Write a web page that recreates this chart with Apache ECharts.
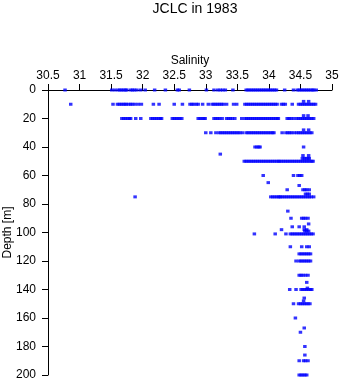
<!DOCTYPE html>
<html>
<head>
<meta charset="utf-8">
<script src="https://cdn.jsdelivr.net/npm/echarts@6/dist/echarts.min.js"></script>
<style>
html,body{margin:0;padding:0;background:#fff;}
#chart{width:341px;height:384px;}
</style>
</head>
<body>
<div id="chart"></div>
<script>
// Salinity readings at each sampled depth (m)
const depthLevels = [0, 8, 10, 18, 20, 28, 30, 40, 45, 46, 48, 50, 60, 65, 67, 70, 73, 75, 85, 90, 94, 96, 98, 99, 101, 110, 115, 120, 130, 135, 139, 140, 146, 148, 150, 160, 167, 170, 180, 186, 190, 200];

const sal_0 = [30.77, 31.51, 31.56, 31.61, 31.64, 31.67, 31.70, 31.73, 31.75, 31.81, 31.84, 31.87, 31.91, 31.97, 32.04, 32.19, 32.36, 32.55, 32.58, 32.74, 33.01, 33.13, 33.19, 33.23, 33.27, 33.31, 33.43, 33.64, 33.67, 33.70, 33.73, 33.76, 33.79, 33.82, 33.85, 33.88, 33.91, 33.94, 33.97, 34.00, 34.03, 34.06, 34.09, 34.12, 34.25, 34.39, 34.45, 34.48, 34.51, 34.54, 34.57, 34.60, 34.63, 34.66, 34.69, 34.71, 34.75];
const sal_8 = [34.55, 34.63];
const sal_10 = [30.86, 31.53, 31.60, 31.63, 31.66, 31.69, 31.72, 31.74, 31.78, 31.81, 31.84, 31.88, 31.93, 31.98, 32.17, 32.26, 32.50, 32.63, 32.75, 32.78, 32.81, 32.85, 32.88, 32.95, 33.04, 33.10, 33.13, 33.16, 33.19, 33.22, 33.25, 33.28, 33.33, 33.44, 33.49, 33.62, 33.65, 33.68, 33.71, 33.74, 33.77, 33.80, 33.83, 33.86, 33.89, 33.92, 33.95, 33.98, 34.01, 34.04, 34.07, 34.10, 34.13, 34.20, 34.23, 34.26, 34.37, 34.47, 34.50, 34.53, 34.56, 34.59, 34.62, 34.65, 34.68, 34.71, 34.74];
const sal_18 = [34.55, 34.62];
const sal_20 = [31.67, 31.70, 31.73, 31.76, 31.79, 31.81, 31.89, 31.97, 32.13, 32.16, 32.19, 32.22, 32.25, 32.28, 32.30, 32.47, 32.50, 32.53, 32.56, 32.59, 32.62, 32.88, 32.91, 32.94, 32.97, 32.99, 33.13, 33.16, 33.19, 33.22, 33.26, 33.33, 33.36, 33.39, 33.42, 33.46, 33.57, 33.62, 33.65, 33.68, 33.71, 33.74, 33.77, 33.80, 33.83, 33.86, 33.89, 33.92, 33.95, 33.98, 34.01, 34.04, 34.07, 34.10, 34.13, 34.15, 34.29, 34.32, 34.35, 34.39, 34.44, 34.47, 34.50, 34.53, 34.56, 34.59, 34.62, 34.65, 34.68, 34.71];
const sal_28 = [34.55, 34.63];
const sal_30 = [33.00, 33.08, 33.16, 33.21, 33.24, 33.27, 33.30, 33.33, 33.36, 33.39, 33.42, 33.45, 33.48, 33.51, 33.54, 33.58, 33.64, 33.67, 33.70, 33.73, 33.76, 33.79, 33.82, 33.85, 33.88, 33.91, 33.94, 33.97, 34.00, 34.03, 34.06, 34.08, 34.21, 34.27, 34.30, 34.33, 34.36, 34.40, 34.44, 34.47, 34.50, 34.53, 34.56, 34.59, 34.62, 34.65, 34.68];
const sal_40 = [33.78, 33.81, 33.84, 33.86, 34.55];
const sal_45 = [33.23];
const sal_46 = [34.54, 34.63];
const sal_48 = [34.53, 34.56, 34.59, 34.62, 34.64];
const sal_50 = [33.61, 33.64, 33.67, 33.70, 33.73, 33.76, 33.79, 33.82, 33.85, 33.88, 33.91, 33.94, 33.97, 34.00, 34.03, 34.06, 34.09, 34.12, 34.15, 34.17, 34.20, 34.23, 34.26, 34.29, 34.32, 34.35, 34.38, 34.41, 34.44, 34.47, 34.50, 34.53, 34.56, 34.59, 34.62, 34.65, 34.68, 34.70];
const sal_60 = [33.91, 34.39, 34.46, 34.49, 34.52];
const sal_65 = [33.99];
const sal_67 = [34.48];
const sal_70 = [34.29, 34.54, 34.57, 34.60, 34.64];
const sal_73 = [34.58, 34.61, 34.64];
const sal_75 = [31.88, 34.03, 34.06, 34.09, 34.12, 34.15, 34.17, 34.19, 34.22, 34.25, 34.28, 34.31, 34.34, 34.37, 34.40, 34.43, 34.46, 34.49, 34.52, 34.55, 34.58, 34.61, 34.64, 34.67, 34.71];
const sal_85 = [34.30];
const sal_90 = [34.35, 34.52, 34.55, 34.58, 34.62];
const sal_94 = [34.63];
const sal_96 = [34.37, 34.48, 34.56];
const sal_98 = [34.20, 34.56, 34.60];
const sal_99 = [34.57, 34.60, 34.63];
const sal_101 = [33.77, 34.10, 34.27, 34.34, 34.37, 34.40, 34.43, 34.46, 34.49, 34.52, 34.55, 34.58, 34.61, 34.64, 34.67, 34.70];
const sal_110 = [34.34, 34.52, 34.60, 34.64];
const sal_115 = [34.48, 34.51, 34.54, 34.57, 34.60, 34.63, 34.66];
const sal_120 = [34.43, 34.48, 34.51, 34.54, 34.57, 34.60, 34.63, 34.66];
const sal_130 = [34.48, 34.51, 34.54, 34.58, 34.62];
const sal_135 = [34.60];
const sal_139 = [34.61];
const sal_140 = [34.33, 34.43, 34.51, 34.54, 34.57, 34.60, 34.63, 34.66, 34.68];
const sal_146 = [34.56];
const sal_148 = [34.55];
const sal_150 = [34.39, 34.47, 34.50, 34.53, 34.56, 34.59, 34.62, 34.65];
const sal_160 = [34.42];
const sal_167 = [34.56];
const sal_170 = [34.50];
const sal_180 = [34.57];
const sal_186 = [34.57];
const sal_190 = [34.48, 34.55, 34.58, 34.62];
const sal_200 = [34.48, 34.51, 34.54, 34.57, 34.60];

const salinityRows = [sal_0, sal_8, sal_10, sal_18, sal_20, sal_28, sal_30, sal_40, sal_45, sal_46, sal_48, sal_50, sal_60, sal_65, sal_67, sal_70, sal_73, sal_75, sal_85, sal_90, sal_94, sal_96, sal_98, sal_99, sal_101, sal_110, sal_115, sal_120, sal_130, sal_135, sal_139, sal_140, sal_146, sal_148, sal_150, sal_160, sal_167, sal_170, sal_180, sal_186, sal_190, sal_200];

const titleText = 'JCLC in 1983';
const xName = 'Salinity';
const yName = 'Depth [m]';

const points = [];
depthLevels.forEach(function (d, i) {
  salinityRows[i].forEach(function (s) { points.push([s, d]); });
});

const FONT = '"Liberation Sans", Arial, Helvetica, sans-serif';
const chart = echarts.init(document.getElementById('chart'), null, {renderer: 'canvas'});
chart.setOption({
  animation: false,
  backgroundColor: '#ffffff',
  title: {
    text: titleText,
    left: 190, top: -3,
    textAlign: 'center',
    textStyle: {fontFamily: FONT, fontSize: 14, fontWeight: 'normal', color: '#000'}
  },
  grid: {left: 48, right: 9, top: 90, bottom: 9, containLabel: false, outerBoundsMode: 'none'},
  xAxis: {
    type: 'value', position: 'top',
    min: 30.5, max: 35, interval: 0.5,
    name: xName, nameLocation: 'middle', nameGap: 23, nameMoveOverlap: false,
    nameTextStyle: {fontFamily: FONT, fontSize: 12, color: '#000'},
    axisLine: {show: true, lineStyle: {color: '#000', width: 1}},
    axisTick: {show: true, inside: false, length: 6, lineStyle: {color: '#000'}},
    axisLabel: {margin: 8, fontFamily: FONT, fontSize: 12, color: '#000'},
    splitLine: {show: false}
  },
  yAxis: {
    type: 'value', inverse: true,
    min: 0, max: 200, interval: 20,
    name: yName, nameLocation: 'middle', nameGap: 34, nameRotate: 90, nameMoveOverlap: false,
    nameTextStyle: {fontFamily: FONT, fontSize: 12, color: '#000'},
    axisLine: {show: true, lineStyle: {color: '#000', width: 1}},
    axisTick: {show: true, inside: false, length: 6, lineStyle: {color: '#000'}},
    axisLabel: {margin: 12, fontFamily: FONT, fontSize: 12, color: '#000'},
    splitLine: {show: false}
  },
  series: [{
    type: 'scatter',
    data: points,
    symbol: 'rect',
    symbolSize: [3.5, 3],
    clip: false,
    itemStyle: {color: '#0000ff'}
  }]
});
</script>
</body>
</html>
